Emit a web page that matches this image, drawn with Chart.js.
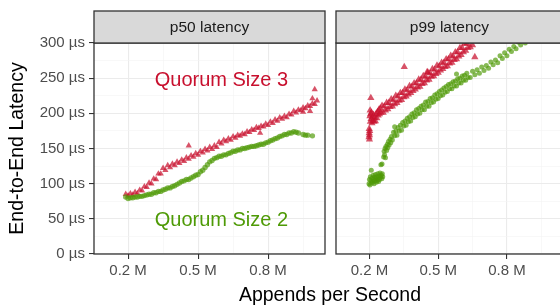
<!DOCTYPE html>
<html><head><meta charset="utf-8">
<script src="https://cdn.jsdelivr.net/npm/chart.js@4.4.1/dist/chart.umd.min.js"></script>
<style>
html,body{margin:0;padding:0;background:#fff;width:560px;height:305px;overflow:hidden;}
#wrap{position:relative;width:560px;height:305px;overflow:hidden;}
canvas{position:absolute;top:0;}
#c1{left:0;} #c2{left:330px;}
#xt{position:absolute;left:0;width:660px;top:283px;text-align:center;font-family:"Liberation Sans",Arial,sans-serif;font-size:19.5px;line-height:22px;color:#000;white-space:nowrap;}
</style></head><body>
<div id="wrap">
<canvas id="c1" width="330" height="305"></canvas>
<canvas id="c2" width="237" height="305"></canvas>
<div id="xt">Appends per Second</div>
</div>
<script>
// ---- data (millions of appends/s, µs) ----
const panels = ["p50 latency", "p99 latency"];
const seriesNames = ["Quorum Size 3", "Quorum Size 2"];
const xTickVals = [0.2, 0.35, 0.5, 0.65, 0.8, 0.95];
const xTickLabels = ["0.2 M", "", "0.5 M", "", "0.8 M", ""];
const yTickVals = [0, 25, 50, 75, 100, 125, 150, 175, 200, 225, 250, 275, 300];
const yTickLabels = ["0 µs", "", "50 µs", "", "100 µs", "", "150 µs", "", "200 µs", "", "250 µs", "", "300 µs"];

const p50RedX = [0.19,0.20,0.21,0.22,0.23,0.24,0.25,0.26,0.27,0.28,0.29,0.30,0.31,0.32,0.33,0.34,0.35,0.36,0.37,0.38,0.39,0.40,0.41,0.42,0.43,0.44,0.45,0.46,0.47,0.48,0.49,0.50,0.51,0.52,0.53,0.54,0.55,0.56,0.57,0.58,0.59,0.60,0.61,0.62,0.63,0.64,0.65,0.66,0.67,0.68,0.69,0.70,0.71,0.72,0.73,0.74,0.75,0.76,0.77,0.78,0.79,0.80,0.81,0.82,0.83,0.84,0.85,0.86,0.87,0.88,0.89,0.90,0.91,0.92,0.93,0.94,0.95,0.96,0.97,0.98,0.99,1.00,1.01,0.46,0.766,0.95,0.98,0.99,1.00];
const p50RedY = [85,83,86,84,88,86,91,90,96,95,101,100,107,106,114,114,122,119,126,123,128,126,131,129,134,132,137,135,140,138,143,141,146,144,149,147,152,149,154,152,159,157,162,160,164,162,167,165,169,168,171,170,174,173,177,176,180,179,182,181,185,183,188,186,191,189,194,192,196,194,199,198,203,201,205,204,208,207,211,210,214,213,218,154,172,202,203,221,234];

const p50GreenX = [0.19,0.20,0.21,0.22,0.23,0.24,0.25,0.26,0.27,0.28,0.29,0.30,0.31,0.32,0.33,0.34,0.35,0.36,0.37,0.38,0.39,0.40,0.41,0.42,0.43,0.44,0.45,0.46,0.47,0.48,0.49,0.50,0.51,0.52,0.53,0.54,0.55,0.56,0.57,0.58,0.59,0.60,0.61,0.62,0.63,0.64,0.65,0.66,0.67,0.68,0.69,0.70,0.71,0.72,0.73,0.74,0.75,0.76,0.77,0.78,0.79,0.80,0.81,0.82,0.83,0.84,0.85,0.86,0.87,0.88,0.89,0.90,0.91,0.92,0.93,0.95,0.96,0.97,0.99];
const p50GreenY = [81,79,80,80,81,81,82,82,83,84,85,85,87,87,89,89,91,92,94,94,96,97,99,101,103,104,106,106,108,110,112,113,117,119,123,127,131,133,136,137,139,139,141,141,143,144,146,146,148,148,150,150,151,152,153,153,154,155,156,156,158,159,161,162,164,165,167,168,170,170,172,172,174,173,172,170,169,169,168];

const p99RedX = [0.198,0.199,0.200,0.201,0.199,0.200,0.202,0.203,0.204,0.205,0.206,0.207,0.209,0.211,0.213,0.215,0.218,0.220,0.223,0.226,0.229,0.232,0.235,0.238,0.241,0.244,0.247,0.250,
  0.255,0.260,0.265,0.270,0.275,0.280,0.285,0.290,0.295,0.300,0.305,0.310,0.315,0.320,0.325,0.330,0.335,0.340,0.345,0.350,0.355,0.360,0.365,0.370,0.375,0.380,0.385,0.390,0.395,0.400,
  0.405,0.410,0.415,0.420,0.425,0.430,0.435,0.440,0.445,0.450,0.455,0.460,0.465,0.470,0.475,0.480,0.485,0.490,0.495,0.500,0.505,0.510,0.515,0.520,0.525,0.530,0.535,0.540,0.545,0.550,
  0.555,0.560,0.565,0.570,0.575,0.580,0.585,0.590,0.595,0.600,0.605,0.610,0.615,0.620,0.625,0.630,0.635,0.640,0.645,0.650,0.352,0.452,0.660];
const p99RedY = [166,172,169,175,178,163,196,204,188,199,222,192,201,186,195,190,198,188,194,189,199,193,202,197,205,199,207,201,
  211,201,210,204,215,206,215,209,220,210,219,213,225,215,224,218,229,219,229,223,234,224,233,227,239,229,238,232,243,234,
  243,237,248,238,248,242,253,243,252,247,258,248,257,252,263,253,262,256,268,258,267,261,272,263,272,266,277,267,277,271,
  282,272,281,276,287,277,287,281,293,283,293,287,299,289,299,293,304,294,303,297,266,259,280];

const p99GreenX = [0.198,0.200,0.202,0.204,0.206,0.208,0.210,0.212,0.214,0.216,0.218,0.220,0.222,0.224,0.226,0.228,0.230,0.232,0.234,0.236,0.238,0.240,0.242,0.244,0.246,0.248,0.250,0.252,0.254,0.256,0.258,
  0.262,0.264,0.266,0.268,0.270,0.272,0.275,0.278,0.280,0.283,0.286,0.290,0.293,0.296,
  0.300,0.305,0.310,0.315,0.320,0.325,0.330,0.335,0.340,0.345,0.350,0.355,0.360,0.365,0.370,0.375,0.380,0.385,0.390,0.395,0.400,0.405,0.410,0.415,0.420,0.425,0.430,0.435,0.440,0.445,
  0.450,0.455,0.460,0.465,0.470,0.475,0.480,0.485,0.490,0.495,0.500,0.505,0.510,0.515,0.520,0.525,0.530,0.535,0.540,0.545,0.550,0.555,0.560,0.565,0.570,0.575,0.580,0.585,0.590,0.595,
  0.600,0.605,0.610,0.615,0.620,0.625,0.630,
  0.64,0.65,0.66,0.67,0.68,0.69,0.70,0.71,0.72,0.73,0.74,0.75,0.76,0.77,0.78,0.79,0.80,0.81,0.82,0.83,0.84,0.85,0.86,0.87,0.88,0.89,
  0.255,0.310,0.580];
const p99GreenY = [100,106,98,110,104,119,101,108,103,112,106,100,109,104,113,107,102,110,105,114,108,103,111,106,115,109,127,112,107,114,110,
  138,146,141,150,137,153,147,156,151,160,155,163,158,167,
  162,173,168,175,169,180,175,183,176,187,182,189,183,193,188,195,189,199,194,201,195,205,199,207,200,210,205,212,205,216,
  210,217,210,221,215,222,216,226,220,228,221,231,225,233,226,236,230,238,231,241,235,242,235,245,239,246,239,249,243,250,
  243,253,247,254,247,257,251,
  251,260,255,262,257,266,261,268,264,273,269,276,272,282,278,286,282,291,288,295,292,301,297,304,300,309,
  128,181,256];

// ---- styles ----
const RED = "rgba(200,16,46,0.72)", GREEN = "rgba(78,154,6,0.68)";
const RED_T = "#C8102E", GREEN_T = "#4E9A06";
const FONT = '"Liberation Sans", Arial, sans-serif';

function pts(xs, ys){ return xs.map((x,i)=>({x:x, y:ys[i]})); }
const isMajorX = v => xTickLabels[xTickVals.indexOf(v)] !== "";
const isMajorY = v => yTickLabels[yTickVals.indexOf(v)] !== "";

function panelPlugin(title, showYTitle, notes){
  return {
    id: "panel" + title.replace(/\W/g,""),
    afterDraw(chart){
      const ctx = chart.ctx, a = chart.chartArea;
      ctx.save();
      notes.forEach(n=>{
        ctx.font = "20px " + FONT;
        ctx.fillStyle = n.color;
        ctx.textAlign = "center"; ctx.textBaseline = "middle";
        ctx.fillText(n.text, chart.scales.x.getPixelForValue(n.x), chart.scales.y.getPixelForValue(n.y));
      });
      ctx.strokeStyle = "#333333"; ctx.lineWidth = 1.3;
      ctx.strokeRect(a.left, a.top, a.right - a.left, a.bottom - a.top);
      ctx.fillStyle = "#D9D9D9";
      ctx.fillRect(a.left, 11, a.right - a.left, a.top - 11);
      ctx.strokeRect(a.left, 11, a.right - a.left, a.top - 11);
      ctx.fillStyle = "#1A1A1A";
      ctx.font = "15.5px " + FONT;
      ctx.textAlign = "center"; ctx.textBaseline = "middle";
      ctx.fillText(title, (a.left + a.right) / 2, 27.5);
      if (showYTitle){
        ctx.translate(18, (a.top + a.bottom) / 2);
        ctx.rotate(-Math.PI/2);
        ctx.fillStyle = "#000";
        ctx.font = "19.5px " + FONT;
        ctx.fillText("End-to-End Latency", 0, 0);
      }
      ctx.restore();
    }
  };
}

function makePanel(id, title, redPts, greenPts, left, notes, rR, gR){
  const gridOpts = (isMaj, ticks) => ({
    color: c => (c.tick && isMaj(c.tick.value)) ? "#EBEBEB" : "#F3F3F3",
    lineWidth: c => (c.tick && isMaj(c.tick.value)) ? 1.1 : 0.6,
    tickColor: c => (c.tick && isMaj(c.tick.value)) ? "#333333" : "rgba(0,0,0,0)",
    tickLength: 5, tickWidth: 1.1, drawTicks: ticks
  });
  return new Chart(document.getElementById(id), {
    type: "scatter",
    data: { datasets: [
      { label: seriesNames[1], data: greenPts, pointStyle: "circle", pointRadius: gR, backgroundColor: GREEN, borderWidth: 0, clip: 0 },
      { label: seriesNames[0], data: redPts, pointStyle: "triangle", pointRadius: rR, backgroundColor: RED, borderWidth: 0, clip: 0 }
    ]},
    options: {
      responsive: false, animation: false, devicePixelRatio: 1, events: [],
      layout: { padding: { left: 0, right: left ? 5 : 0, top: 43, bottom: 0 } },
      plugins: { legend: { display: false }, tooltip: { enabled: false } },
      scales: {
        x: {
          type: "linear", min: 0.054, max: 1.044,
          afterBuildTicks: s => { s.ticks = xTickVals.map(v => ({ value: v })); },
          afterFit: s => { s.height = 51; },
          ticks: { autoSkip: false, maxRotation: 0, padding: 3, color: "#4D4D4D", font: { family: FONT, size: 15 },
                   callback: v => xTickLabels[xTickVals.indexOf(v)] || "" },
          grid: gridOpts(isMajorX, true),
          border: { display: false }
        },
        y: {
          type: "linear", min: 0, max: 300,
          afterBuildTicks: s => { s.ticks = yTickVals.map(v => ({ value: v })); },
          afterFit: s => { s.width = left ? 94 : 6; },
          ticks: { display: left, autoSkip: false, padding: 4, color: "#4D4D4D", font: { family: FONT, size: 15 },
                   callback: v => yTickLabels[yTickVals.indexOf(v)] || "" },
          grid: gridOpts(isMajorY, left),
          border: { display: false }
        }
      }
    },
    plugins: [panelPlugin(title, left, notes)]
  });
}

makePanel("c1", panels[0], pts(p50RedX, p50RedY), pts(p50GreenX, p50GreenY), true, [
  { text: seriesNames[0], x: 0.6, y: 247, color: RED_T },
  { text: seriesNames[1], x: 0.6, y: 47, color: GREEN_T }
], 3.6, 2.7);
makePanel("c2", panels[1], pts(p99RedX, p99RedY), pts(p99GreenX, p99GreenY), false, [], 4.2, 2.5);
</script>
</body></html>
